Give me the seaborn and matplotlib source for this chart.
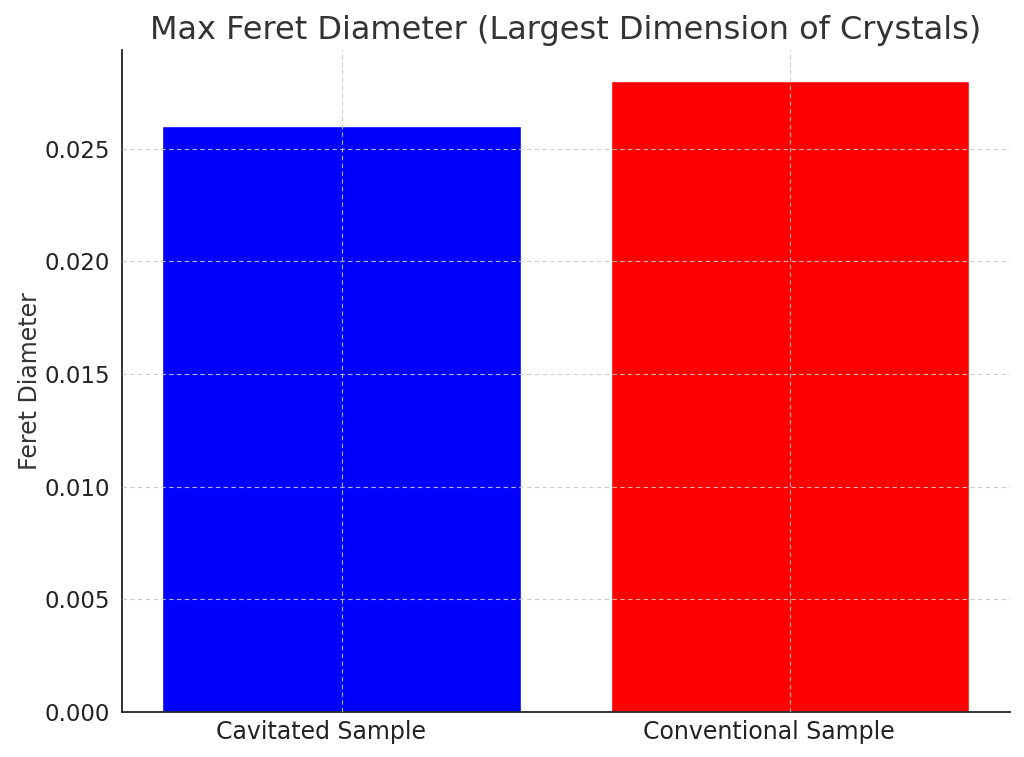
import matplotlib
matplotlib.use('Agg')
import matplotlib.pyplot as plt
import matplotlib.transforms as mtransforms
import seaborn as sns
import pandas as pd

samples = ['Cavitated Sample', 'Conventional Sample']
feret = [0.026, 0.028]
bar_colors = ['#0000ff', '#ff0000']

sns.set_style('white')
plt.rcParams['font.family'] = ['DejaVu Sans']
plt.rcParams['text.color'] = '#333333'
plt.rcParams['axes.labelcolor'] = '#333333'
plt.rcParams['xtick.color'] = '#222222'
plt.rcParams['ytick.color'] = '#222222'

df = pd.DataFrame({'sample': samples, 'feret': feret})

fig, ax = plt.subplots(figsize=(10.24, 7.57), dpi=100)
sns.barplot(data=df, x='sample', y='feret', hue='sample', palette=bar_colors,
            width=0.8, legend=False, saturation=1, ax=ax)
ax.set_xlim(-0.49, 1.49)
ax.set_ylim(0, 0.0294)

ax.set_title('Max Feret Diameter (Largest Dimension of Crystals)', fontsize=23,
             color='#333333', pad=8)
ax.set_ylabel('Feret Diameter', fontsize=17, labelpad=2)
ax.set_xlabel('')
ax.tick_params(axis='y', labelsize=16.5, direction='out', length=5, width=1.2)
ax.tick_params(axis='x', labelsize=17, direction='in', length=5, width=1.2, pad=6)

# x tick labels sit a little left of the bar centres in the reference
shift = mtransforms.ScaledTranslation(-0.21, 0, fig.dpi_scale_trans)
for lbl in ax.get_xticklabels():
    lbl.set_transform(lbl.get_transform() + shift)

ax.set_axisbelow(False)
ax.grid(True, linestyle=(0, (4, 3)), linewidth=0.8, color='#c8c8c8', alpha=0.9)
sns.despine(ax=ax)
for s in ['left', 'bottom']:
    ax.spines[s].set_color('#222222')
    ax.spines[s].set_linewidth(1.3)

plt.subplots_adjust(left=0.119, right=0.986, top=0.934, bottom=0.06)
plt.savefig('out.png', dpi=100)
